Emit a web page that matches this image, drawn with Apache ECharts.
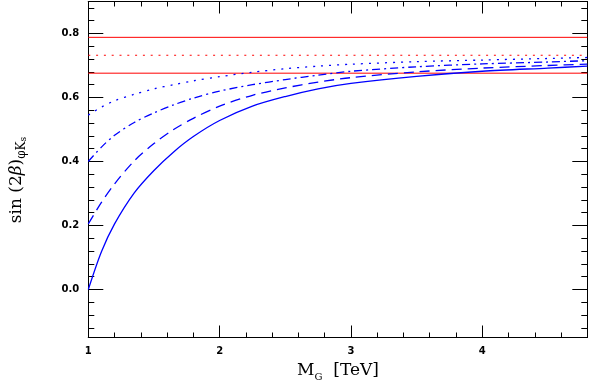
<!DOCTYPE html>
<html>
<head>
<meta charset="utf-8">
<script src="https://cdn.jsdelivr.net/npm/echarts@6/dist/echarts.min.js"></script>
<style>html,body{margin:0;padding:0;background:#fff}#c{width:589px;height:382px}</style>
</head>
<body>
<div id="c"></div>
<script>
// ---- data ----
var massTeV = [1.0, 1.1, 1.2, 1.35, 1.5, 1.65, 1.8, 2.0, 2.25, 2.5, 2.75, 3.0, 3.5, 4.0, 4.5, 4.8];
var solidCurve   = [0.000, 0.118, 0.205, 0.302, 0.372, 0.430, 0.478, 0.528, 0.573, 0.603, 0.627, 0.644, 0.666, 0.682, 0.692, 0.698];
var dashedCurve  = [0.205, 0.272, 0.330, 0.402, 0.456, 0.500, 0.535, 0.573, 0.607, 0.630, 0.648, 0.662, 0.680, 0.692, 0.700, 0.704];
var dashDotCurve = [0.400, 0.445, 0.482, 0.522, 0.552, 0.577, 0.598, 0.620, 0.640, 0.656, 0.670, 0.682, 0.696, 0.705, 0.711, 0.715];
var dottedCurve  = [0.545, 0.570, 0.590, 0.610, 0.627, 0.640, 0.652, 0.665, 0.679, 0.690, 0.698, 0.704, 0.712, 0.717, 0.722, 0.725];
var bandX = [1.0, 4.8];
var bandUpper = 0.788;
var bandCentral = 0.732;
var bandLower = 0.676;
var xMajorTicks = [1, 2, 3, 4];
var xMinorTicks = [1.2, 1.4, 1.6, 1.8, 2.2, 2.4, 2.6, 2.8, 3.2, 3.4, 3.6, 3.8, 4.2, 4.4, 4.6];
var yMajorTicks = [0.0, 0.2, 0.4, 0.6, 0.8];
var yMinorTicks = [-0.12, -0.08, -0.04, 0.04, 0.08, 0.12, 0.16, 0.24, 0.28, 0.32, 0.36, 0.44, 0.48, 0.52, 0.56, 0.64, 0.68, 0.72, 0.76, 0.84, 0.88];
var xRange = [1, 4.8];
var yRange = [-0.15, 0.9];

function pairs(xs, ys) { return xs.map(function (x, i) { return [x, ys[i]]; }); }
function flat(xs, v) { return xs.map(function (x) { return [x, v]; }); }

var labelFont = { color: '#000', fontFamily: 'DejaVu Sans', fontWeight: 'bold', fontSize: 10 };

function xAx(pos, ticks, len, labels) {
  return {
    type: 'value', min: xRange[0], max: xRange[1], position: pos, gridIndex: 0,
    axisLine: { show: true, onZero: false, lineStyle: { color: '#000', width: 1 } },
    axisTick: { show: true, inside: true, length: len, customValues: ticks, lineStyle: { color: '#000', width: 1 } },
    axisLabel: labels ? Object.assign({ show: true, customValues: ticks, margin: 9, formatter: function (v) { return String(Math.round(v)); } }, labelFont) : { show: false },
    splitLine: { show: false }
  };
}
function yAx(pos, ticks, len, labels) {
  return {
    type: 'value', min: yRange[0], max: yRange[1], position: pos, gridIndex: 0,
    axisLine: { show: true, onZero: false, lineStyle: { color: '#000', width: 1 } },
    axisTick: { show: true, inside: true, length: len, customValues: ticks, lineStyle: { color: '#000', width: 1 } },
    axisLabel: labels ? Object.assign({ show: true, customValues: ticks, margin: 9, formatter: function (v) { return v.toFixed(1); } }, labelFont) : { show: false },
    splitLine: { show: false }
  };
}

var blue = '#0000ff';
var red = '#ff0000';
function curve(d, type) {
  return { type: 'line', data: d, smooth: 0.3, showSymbol: false, symbol: 'none', animation: false,
    lineStyle: { color: blue, width: 1.3, type: type }, xAxisIndex: 0, yAxisIndex: 0, z: 3 };
}
function hline(v, type) {
  return { type: 'line', data: flat(bandX, v), showSymbol: false, symbol: 'none', animation: false,
    lineStyle: { color: red, width: 1, type: type }, xAxisIndex: 0, yAxisIndex: 0, z: 2 };
}

var chart = echarts.init(document.getElementById('c'), null, { renderer: 'canvas' });
chart.setOption({
  backgroundColor: '#fff',
  animation: false,
  grid: { left: 88.3, right: 1.7, top: 1.5, bottom: 44.5, containLabel: false },
  xAxis: [
    xAx('bottom', xMajorTicks, 12, true),
    xAx('bottom', xMinorTicks, 5, false),
    xAx('top', xMajorTicks, 12, false),
    xAx('top', xMinorTicks, 5, false)
  ],
  yAxis: [
    yAx('left', yMajorTicks, 15, true),
    yAx('left', yMinorTicks, 6, false),
    yAx('right', yMajorTicks, 15, false),
    yAx('right', yMinorTicks, 6, false)
  ],
  series: [
    hline(bandUpper, 'solid'),
    hline(bandCentral, [2, 5.8]),
    hline(bandLower, 'solid'),
    curve(pairs(massTeV, solidCurve), 'solid'),
    curve(pairs(massTeV, dashedCurve), [10, 6]),
    curve(pairs(massTeV, dashDotCurve), [8, 4, 2, 4]),
    curve(pairs(massTeV, dottedCurve), [2, 6])
  ],
  graphic: [
    {
      type: 'text', x: 17, y: 180, rotation: Math.PI / 2,
      style: {
        text: '{m|sin (2}{b|β}{m|)}{s|φK}{ss|s}',
        align: 'center', verticalAlign: 'middle', fill: '#000',
        rich: {
          m: { fontFamily: 'DejaVu Serif', fontSize: 17, lineHeight: 22, verticalAlign: 'middle', fill: '#000' },
          b: { fontFamily: 'DejaVu Serif', fontStyle: 'italic', fontSize: 17, lineHeight: 22, verticalAlign: 'middle', fill: '#000' },
          s: { fontFamily: 'DejaVu Serif', fontSize: 12, lineHeight: 10, verticalAlign: 'bottom', fill: '#000' },
          ss: { fontFamily: 'DejaVu Serif', fontSize: 9, lineHeight: 4, verticalAlign: 'bottom', fill: '#000' }
        }
      }
    },
    {
      type: 'text', x: 338, y: 371,
      style: {
        text: '{m|M}{s|G}{m|  [TeV]}',
        align: 'center', verticalAlign: 'middle', fill: '#000',
        rich: {
          m: { fontFamily: 'DejaVu Serif', fontSize: 17, lineHeight: 22, verticalAlign: 'middle', fill: '#000' },
          s: { fontFamily: 'DejaVu Serif', fontSize: 10, lineHeight: 10, verticalAlign: 'bottom', fill: '#000' }
        }
      }
    }
  ]
});
</script>
</body>
</html>
